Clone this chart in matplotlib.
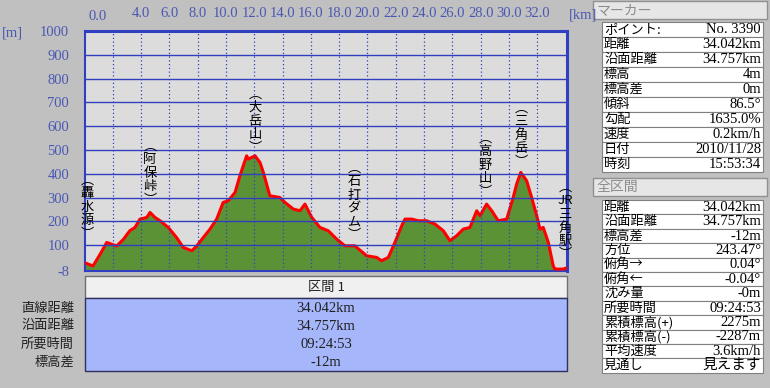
import matplotlib
matplotlib.use("Agg")
import matplotlib.pyplot as plt
from matplotlib.patches import Rectangle

plt.rcParams['font.family'] = ['Noto Sans CJK JP', 'DejaVu Sans']

# 標高プロファイル (距離 km, 標高 m)
dist_km = [0.0, 0.6, 1.1, 1.57, 2.27, 2.75, 3.2, 3.57, 3.92, 4.4, 4.63, 4.98, 5.34,
           5.92, 6.5, 6.98, 7.58, 7.93, 8.4, 8.87, 9.34, 9.8, 10.16, 10.64, 10.99,
           11.22, 11.46, 11.58, 12.05, 12.4, 12.64, 13.1, 13.8, 14.17, 14.76, 15.23,
           15.58, 16.06, 16.64, 17.23, 17.82, 18.4, 19.1, 19.94, 20.65, 21.0, 21.47,
           21.94, 22.42, 22.65, 23.12, 23.6, 24.18, 24.77, 25.36, 25.83, 26.3, 26.77,
           27.24, 27.72, 27.95, 28.42, 28.78, 29.24, 29.84, 30.3, 30.54, 30.83, 31.25,
           31.6, 31.96, 32.19, 32.42, 32.78, 33.13, 33.25, 33.8, 34.042]
elev_m = [27, 13, 62, 112, 97, 125, 161, 175, 210, 217, 238, 217, 203,
          175, 133, 91, 77, 97, 133, 168, 210, 280, 287, 322, 393,
          434, 476, 462, 476, 448, 406, 308, 301, 280, 252, 245,
          273, 217, 175, 161, 126, 98, 98, 56, 49, 35, 49,
          112, 182, 210, 210, 203, 203, 189, 161, 119, 140, 168,
          175, 245, 224, 273, 245, 203, 210, 301, 357, 406, 371,
          301, 224, 168, 175, 112, 13, 0, 0, 4]

# 地点名
wp_names = ['轟水源', '阿保峠', '大岳山', '石打ダム', '高野山', '三角岳', 'JR三角駅']
wp_km = [0.18, 4.63, 12.05, 19.05, 28.3, 30.85, 33.96]
wp_label_m = [260, 403, 622, 281, 437, 563, 201]

x_ticks = [4, 6, 8, 10, 12, 14, 16, 18, 20, 22, 24, 26, 28, 30, 32]
y_ticks = [-8, 100, 200, 300, 400, 500, 600, 700, 800, 900, 1000]

# 区間
sec_labels = ['直線距離', '沿面距離', '所要時間', '標高差']
sec_values = ['34.042km', '34.757km', '09:24:53', '-12m']

# マーカー / 全区間
marker_keys = ['ポイント:', '距離', '沿面距離', '標高', '標高差', '傾斜', '勾配', '速度', '日付', '時刻']
marker_vals = ['No. 3390', '34.042km', '34.757km', '4m', '0m', '86.5°', '1635.0%',
               '0.2km/h', '2010/11/28', '15:53:34']
total_keys = ['距離', '沿面距離', '標高差', '方位', '俯角→', '俯角←', '沈み量', '所要時間',
              '累積標高(+)', '累積標高(-)', '平均速度', '見通し']
total_vals = ['34.042km', '34.757km', '-12m', '243.47°', '0.04°', '-0.04°', '-0m',
              '09:24:53', '2275m', '-2287m', '3.6km/h', '見えます']

BG = '#c0c0c0'
BLUE = '#2f3fc0'
TICK = '#4a58b4'
NUM_FONT = ['Liberation Serif', 'Noto Sans CJK JP']

fig = plt.figure(figsize=(7.7, 3.88), dpi=100, facecolor=BG)

# 画面部品用 (ピクセル座標)
ui = fig.add_axes([0, 0, 1, 1])
ui.set_xlim(0, 770)
ui.set_ylim(388, 0)
ui.axis('off')

ax = fig.add_axes([84.5 / 770, 1 - 271 / 388, (567 - 84.5) / 770, (271 - 31) / 388])
ax.set_facecolor('#dcdcdc')
ax.fill_between(dist_km, elev_m, -8, color='#5c9236', lw=0, zorder=2)
ax.plot(dist_km, elev_m, color='#ff0000', lw=2.2, zorder=3)
ax.set_xlim(0, 34.1)
ax.set_ylim(-8, 1000)

ax.set_yticks(y_ticks)
ax.set_yticklabels([str(v) for v in y_ticks], family=NUM_FONT, fontsize=10.5, color=TICK)
ax.xaxis.tick_top()
ax.set_xticks(x_ticks)
ax.set_xticklabels([f"{v:.1f}" for v in x_ticks], family=NUM_FONT, fontsize=10.5, color=TICK)
ax.tick_params(axis='x', length=0, pad=8)
ax.tick_params(axis='y', length=0, pad=11)
ax.text(0.008, 1.035, '0.0', transform=ax.transAxes, ha='left', va='bottom',
        family=NUM_FONT, fontsize=10.5, color=TICK)

for v in y_ticks[1:-1]:
    ax.axhline(v, color=BLUE, lw=1.0, zorder=4)
for v in [2] + x_ticks:
    ax.axvline(v, color=BLUE, lw=0.9, ls=(0, (1, 2)), zorder=4)
for s in ax.spines.values():
    s.set_color(BLUE)
    s.set_linewidth(1.5)
ax.spines['top'].set_linewidth(2.2)
ax.spines['right'].set_linewidth(2.2)

# 地点名 (縦書き)
for name, km, m in zip(wp_names, wp_km, wp_label_m):
    chars = ['JR'] + list(name[2:]) if name.startswith('JR') else list(name)
    label = '\n'.join(['︵'] + chars + ['︶'])
    ax.text(km, m, label, ha='center', va='center', fontsize=9.5, linespacing=1.05,
            color='black', zorder=5)

ui.text(2, 33, '[m]', ha='left', va='center', family=NUM_FONT, fontsize=10.5, color=TICK)
ui.text(569, 15, '[km]', ha='left', va='center', family=NUM_FONT, fontsize=10.5, color=TICK)

# 区間表
ui.add_patch(Rectangle((85, 276), 482, 22, facecolor='#f0f0f0', edgecolor='#707070', lw=1))
ui.text(326, 287, '区間 1', ha='center', va='center', fontsize=9.5, color='#202020')
ui.add_patch(Rectangle((85, 298), 482, 73, facecolor='#a6b6fa', edgecolor='#303060', lw=1))
for i, (k, v) in enumerate(zip(sec_labels, sec_values)):
    y = 308 + i * 18
    ui.text(74, y, k, ha='right', va='center', fontsize=9.5, color='#202020')
    ui.text(326, y, v, ha='center', va='center', family=NUM_FONT, fontsize=10.5, color='#202020')


def info_table(title, y_head, keys, vals, y0, row_h):
    ui.add_patch(Rectangle((593, y_head), 174, 18, facecolor='#e6e6e6', edgecolor='#909090', lw=1))
    ui.text(597, y_head + 9, title, ha='left', va='center', fontsize=10, color='#8c8c8c')
    for i, (k, v) in enumerate(zip(keys, vals)):
        y = y0 + i * row_h
        ui.add_patch(Rectangle((602, y), 161, row_h, facecolor='white', edgecolor='#808080', lw=0.8))
        ui.text(604, y + row_h / 2, k, ha='left', va='center', fontsize=9.5, color='black')
        ui.text(761, y + row_h / 2, v, ha='right', va='center', family=NUM_FONT,
                fontsize=10.5, color='black')


info_table('マーカー', 1, marker_keys, marker_vals, 22, 15)
info_table('全区間', 178, total_keys, total_vals, 200, 14.4)

fig.savefig('out.png', dpi=100, facecolor=BG)
